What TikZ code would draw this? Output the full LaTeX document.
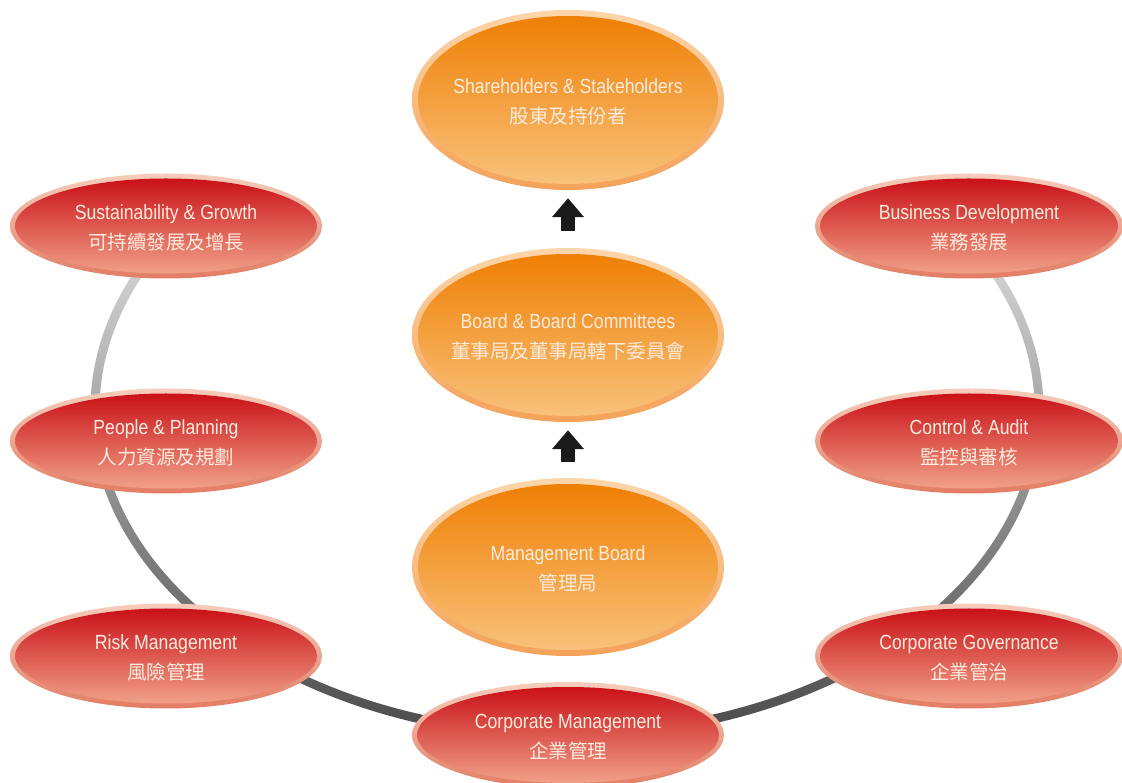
\documentclass[tikz,border=0pt]{standalone}
\usepackage{fontspec}
\setmainfont{Liberation Sans}[FakeStretch=0.86]
\newfontfamily\cjk{Noto Sans CJK TC}
\usetikzlibrary{arrows.meta,calc,shapes.geometric}
\definecolor{obt}{HTML}{FCD6AB}
\definecolor{obb}{HTML}{F4A259}
\definecolor{oit}{HTML}{EE7D00}
\definecolor{oim}{HTML}{F29A38}
\definecolor{oib}{HTML}{F9C47F}
\definecolor{rbt}{HTML}{F6CDBC}
\definecolor{rbb}{HTML}{E27D64}
\definecolor{rit}{HTML}{C70A12}
\definecolor{rim}{HTML}{D53C29}
\definecolor{rib}{HTML}{F3A88E}
\definecolor{txt}{HTML}{FDEBDD}
\definecolor{ringtop}{HTML}{D7D7D7}
\definecolor{ringbot}{HTML}{3C3C3C}
\definecolor{arrowc}{HTML}{1A1A1A}
\tikzset{
  ovalbase/.style n args={2}{shape=ellipse, inner sep=0pt, minimum width=#1, minimum height=#2},
  orangeoval/.style n args={2}{ovalbase={#1}{#2}, top color=obt, bottom color=obb,
    path picture={\shade[top color=oit, middle color=oim, bottom color=oib]
      (path picture bounding box.center) ellipse[x radius=#1/2-6pt, y radius=#2/2-6pt];}},
  redoval/.style n args={2}{ovalbase={#1}{#2}, top color=rbt, bottom color=rbb,
    path picture={\shade[top color=rit, middle color=rim, bottom color=rib]
      (path picture bounding box.center) ellipse[x radius=#1/2-5pt, y radius=#2/2-5pt];}},
  lab/.style={align=center, text=txt, inner sep=0pt, yshift=-2pt,
    font=\fontsize{20.5}{30}\selectfont},
  blockarrow/.style={draw=arrowc, line width=13.5pt, -{Triangle[width=31pt,length=19pt]}},
}
\newcommand{\zh}[1]{{\cjk\fontsize{19.5}{30}\selectfont #1}}
\begin{document}
\begin{tikzpicture}[x=1pt,y=1pt]
\useasboundingbox (0,0) rectangle (1122,782);
% ring behind the outer ovals
\coordinate (rc) at (567,372);
\shade[top color=ringtop, bottom color=ringbot]
  ($(rc)+(150:476.5pt and 329.5pt)$)
  arc[start angle=150, end angle=390, x radius=476.5pt, y radius=329.5pt]
  -- ($(rc)+(390:467.5pt and 320.5pt)$)
  arc[start angle=390, end angle=150, x radius=467.5pt, y radius=320.5pt]
  -- cycle;
% central column
\node[orangeoval={312pt}{180pt}, label={[lab]center:{Shareholders \& Stakeholders\\\zh{股東及持份者}}}] (share) at (568,682) {};
\node[orangeoval={312pt}{174pt}, label={[lab]center:{Board \& Board Committees\\\zh{董事局及董事局轄下委員會}}}] (board) at (568,447) {};
\node[orangeoval={312pt}{178pt}, label={[lab]center:{Management Board\\\zh{管理局}}}] (mgmt) at (568,215) {};
\node[redoval={312pt}{106pt}, label={[lab]center:{Corporate Management\\\zh{企業管理}}}] (corp) at (568,47) {};
% left
\node[redoval={312pt}{105pt}, label={[lab]center:{Sustainability \& Growth\\\zh{可持續發展及增長}}}] (sust) at (166,556) {};
\node[redoval={312pt}{105pt}, label={[lab]center:{People \& Planning\\\zh{人力資源及規劃}}}] (people) at (166,341) {};
\node[redoval={312pt}{105pt}, label={[lab]center:{Risk Management\\\zh{風險管理}}}] (risk) at (166,126) {};
% right
\node[redoval={308pt}{105pt}, label={[lab]center:{Business Development\\\zh{業務發展}}}] (biz) at (969,556) {};
\node[redoval={308pt}{105pt}, label={[lab]center:{Control \& Audit\\\zh{監控與審核}}}] (ctrl) at (969,341) {};
\node[redoval={308pt}{105pt}, label={[lab]center:{Corporate Governance\\\zh{企業管治}}}] (gov) at (969,126) {};
% arrows
\draw[blockarrow] ([yshift=17pt]board.north) -- ([yshift=-8pt]share.south);
\draw[blockarrow] ([yshift=16pt]mgmt.north) -- ([yshift=-8pt]board.south);
\end{tikzpicture}
\end{document}
